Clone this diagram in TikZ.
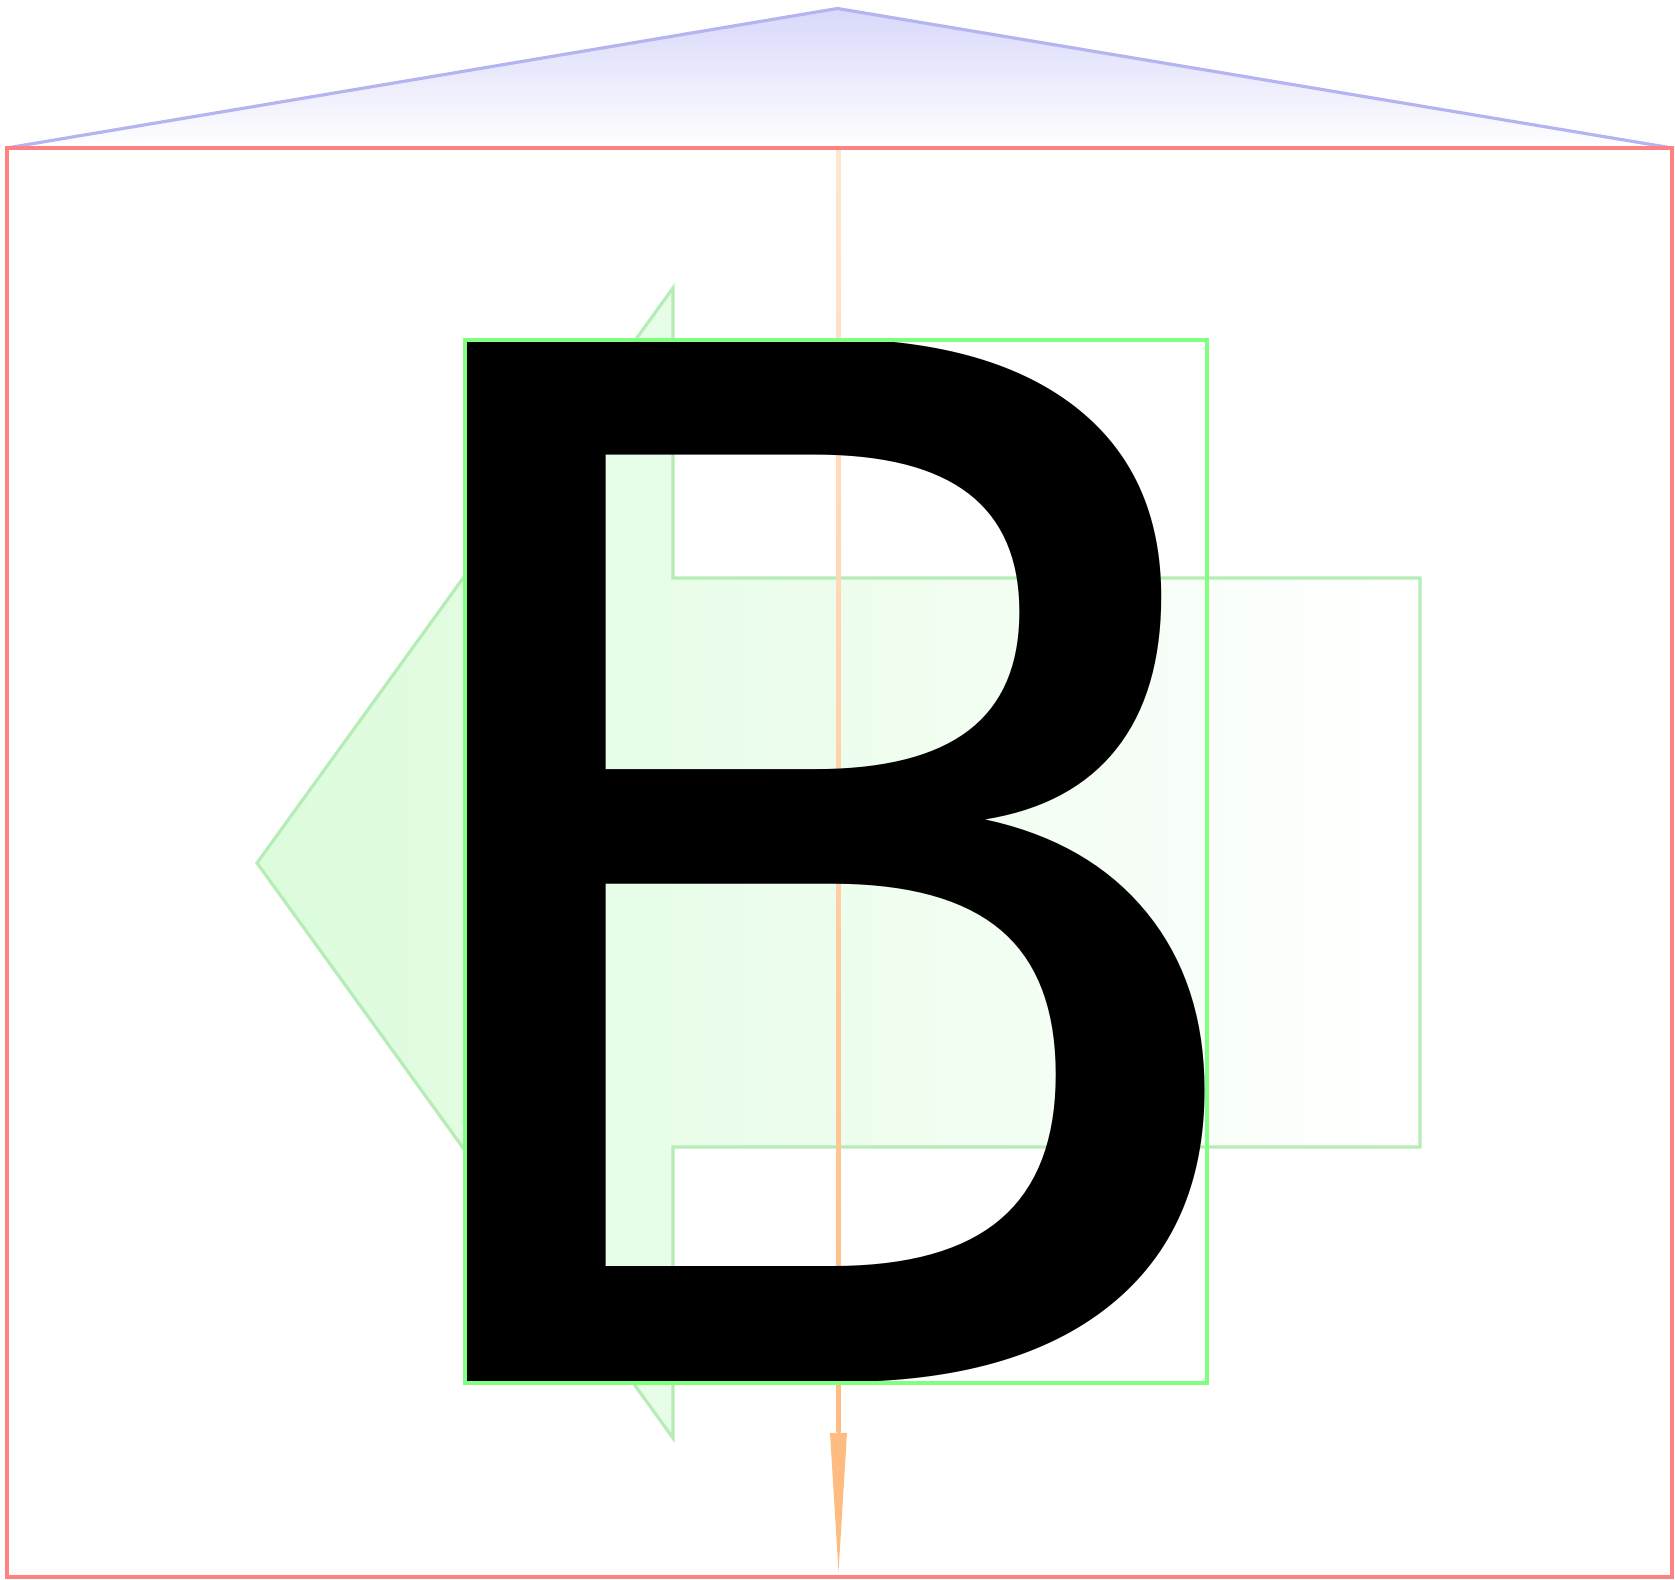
\documentclass[tikz,border=0pt]{standalone}
\usepackage{fontspec}
\newfontfamily\glyphfont{DejaVu Sans}
\usepackage{xcolor}
\usetikzlibrary{calc}
\definecolor{gbFrame}{HTML}{FF8282}
\definecolor{gbHat}{HTML}{B4B4F0}
\definecolor{gbHatTop}{HTML}{D8D8FB}
\definecolor{gbInk}{HTML}{80FF80}
\definecolor{gbArrow}{HTML}{B6ECB6}
\definecolor{gbArrowFill}{HTML}{DCFCDC}
\definecolor{gbAxis}{HTML}{FFBC80}
\definecolor{gbAxisTop}{HTML}{FFE6D0}
\tikzset{
  gb-frame/.style={draw=gbFrame, line width=1pt},
  gb-hat/.style={draw=gbHat, line width=0.9pt, line join=miter},
  gb-ink/.style={draw=gbInk, line width=1pt},
  gb-arrow/.style={draw=gbArrow, line width=0.9pt},
  gb-glyph/.style={inner sep=0pt, outer sep=0pt, anchor=base west,
    font=\glyphfont\fontsize{407}{407}\selectfont},
}
\begin{document}
\begin{tikzpicture}[x=0.01cm, y=-0.01cm]
  \useasboundingbox (0,0) rectangle (1675,1580);
  % hat above the frame
  \shade[top color=gbHatTop, bottom color=white]
    (837.5,8.5) -- (1672,148) -- (7,148) -- cycle;
  \draw[gb-hat] (7,148) -- (837.5,8.5) -- (1672,148);
  % left-pointing arrow behind the glyph
  \shade[left color=gbArrowFill, right color=white]
    (257,863) -- (673,288) -- (673,578) -- (1420,578) -- (1420,1147)
    -- (673,1147) -- (673,1438) -- cycle;
  \draw[gb-arrow] (257,863) -- (673,288) -- (673,578) -- (1420,578)
    -- (1420,1147) -- (673,1147) -- (673,1438) -- cycle;
  % vertical axis
  \coordinate (axtop) at (838.5,148);
  \coordinate (axhead) at (838.5,1433);
  \coordinate (axtip) at (838.5,1572);
  \shade[top color=gbAxisTop, bottom color=gbAxis]
    ($(axtop)+(-2,0)$) rectangle ($(axhead)+(2,0)$);
  \fill[gbAxis] ($(axhead)+(-8.5,0)$) -- ($(axhead)+(8.5,0)$) -- (axtip) -- cycle;
  % the glyph and its ink box
  \node[gb-glyph] (glyph) at (324,1383) {B};
  \draw[gb-ink] (465,340) rectangle (1207,1383);
  % outer frame
  \draw[gb-frame] (7,148) rectangle (1672,1577);
\end{tikzpicture}
\end{document}
